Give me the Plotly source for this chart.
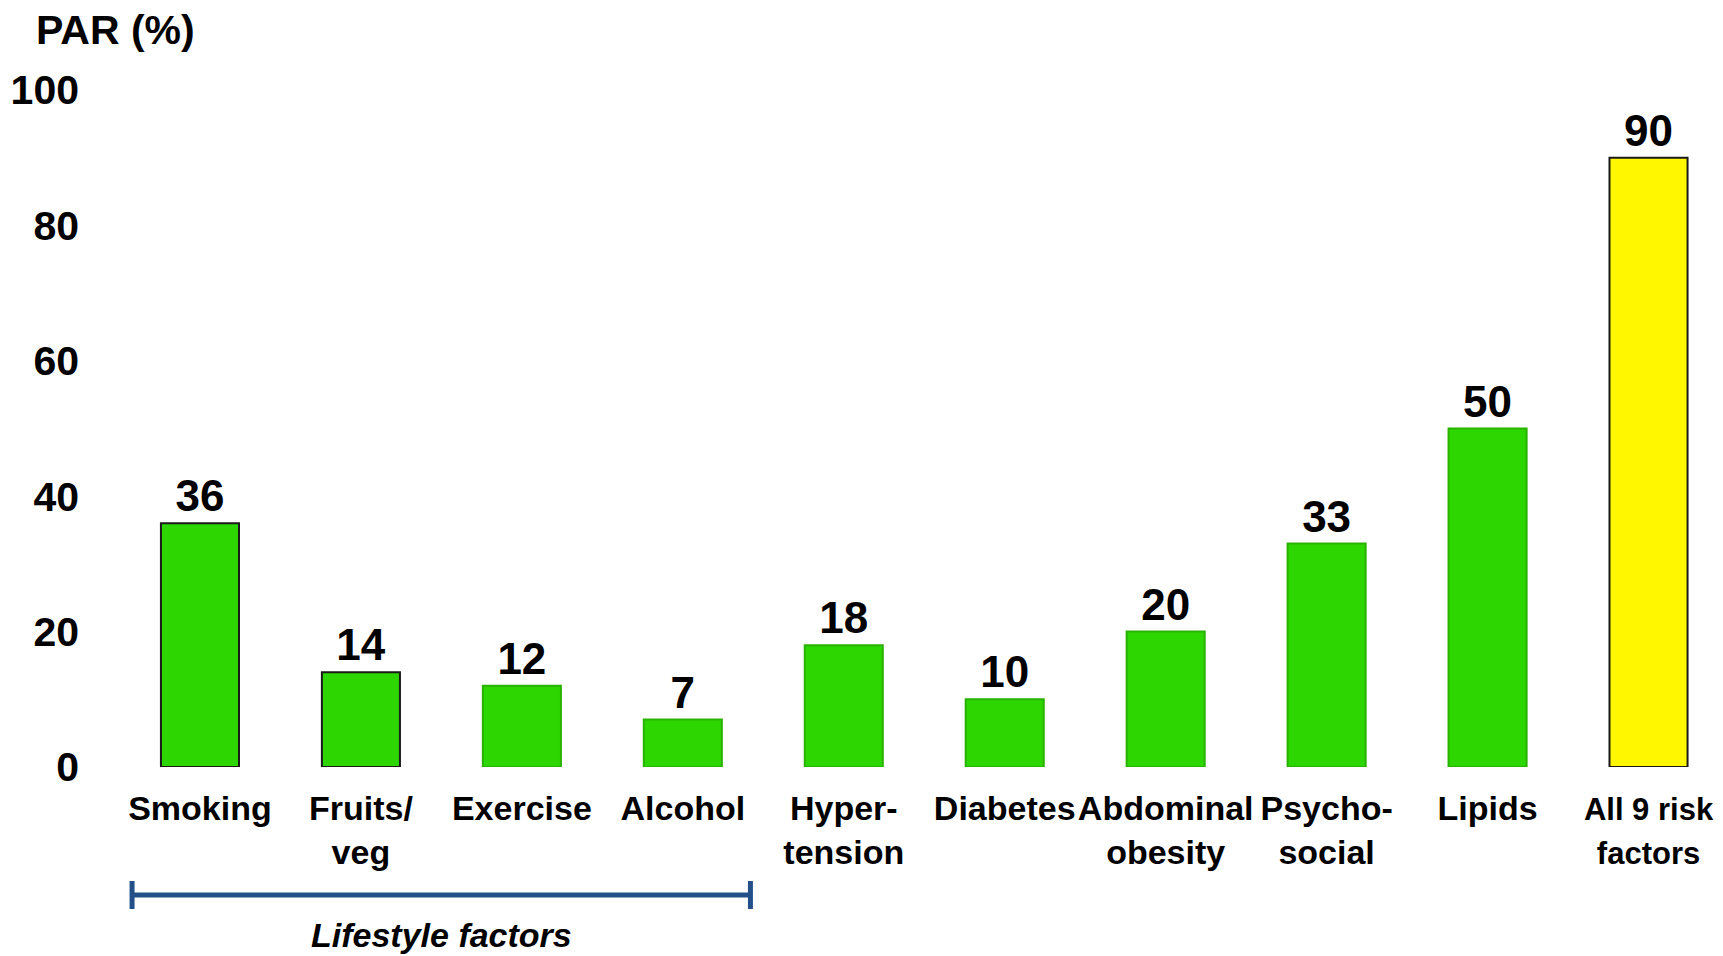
import plotly.graph_objects as go

categories = ["Smoking", "Fruits/<br>veg", "Exercise", "Alcohol", "Hyper-<br>tension",
              "Diabetes", "Abdominal<br>obesity", "Psycho-<br>social", "Lipids", "All 9 risk<br>factors"]
par_values = [36, 14, 12, 7, 18, 10, 20, 33, 50, 90]
y_ticks = [0, 20, 40, 60, 80, 100]
positions = list(range(len(categories)))

GREEN = "#2ed600"
YELLOW = "#fff700"
fill_colors = [GREEN] * 9 + [YELLOW]
line_colors = ["#1a1a1a", "#1a1a1a"] + ["#29b300"] * 7 + ["#1a1a1a"]
FONT = "Arial, 'Liberation Sans', sans-serif"

# last label sits at the right edge: render it slightly tighter so it fits
tick_text = categories[:-1] + [
    "<br>".join(f"<span style='font-size:31px'>{part}</span>" for part in categories[-1].split("<br>"))
]

fig = go.Figure()
fig.add_trace(go.Bar(
    x=positions, y=par_values, width=0.485,
    marker=dict(color=fill_colors, line=dict(color=line_colors, width=2)),
    text=[str(v) for v in par_values], textposition="outside",
    textfont=dict(family=FONT, size=44, color="black", weight="bold"),
    cliponaxis=False, hoverinfo="skip",
))

fig.update_layout(
    width=1715, height=948,
    margin=dict(l=102, r=13, t=82, b=189, autoexpand=False),
    plot_bgcolor="white", paper_bgcolor="white",
    showlegend=False,
    font=dict(family=FONT, color="black"),
    xaxis=dict(range=[-0.559, 9.382], tickvals=positions, ticktext=tick_text,
               showgrid=False, zeroline=False, showline=False, ticks="",
               tickangle=0, automargin=False,
               tickfont=dict(family=FONT, size=34, color="black", weight="bold"),
               ticklabelstandoff=18, ticklabeloverflow="allow"),
    yaxis=dict(range=[0, 100], tickvals=y_ticks, automargin=False,
               showgrid=False, zeroline=False, showline=False, ticks="",
               tickfont=dict(family=FONT, size=41, color="black", weight="bold"),
               ticklabelstandoff=30),
)

fig.add_annotation(text="<b>PAR (%)</b>", xref="paper", yref="paper",
                   x=-(110 - 34) / 1600, y=1 + (90 - 30) / 677, xanchor="left", yanchor="middle",
                   showarrow=False, font=dict(family=FONT, size=41, color="black"))

# Lifestyle factors bracket (spans first four categories)
bracket_y = -(895 - 767) / 677
cap = 14 / 677
x0, x1 = -0.422, 3.42
BLUE = "#24508a"
fig.add_shape(type="line", xref="x", yref="paper", x0=x0, x1=x1, y0=bracket_y, y1=bracket_y,
              line=dict(color=BLUE, width=5))
for xx in (x0, x1):
    fig.add_shape(type="line", xref="x", yref="paper", x0=xx, x1=xx,
                  y0=bracket_y - cap, y1=bracket_y + cap, line=dict(color=BLUE, width=5))
fig.add_annotation(text="<b><i>Lifestyle factors</i></b>", xref="x", yref="paper",
                   x=(x0 + x1) / 2, y=-(935 - 767) / 677, xanchor="center", yanchor="middle",
                   showarrow=False, font=dict(family=FONT, size=34, color="black"))

fig.write_html("out.html")
